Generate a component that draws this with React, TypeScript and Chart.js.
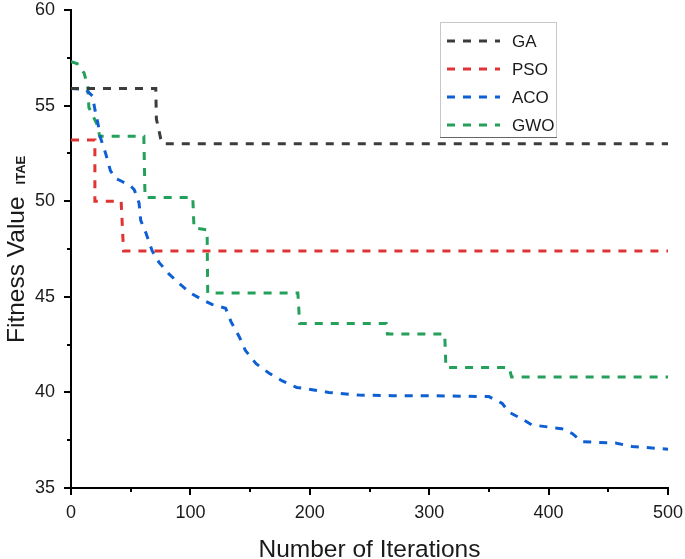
import React, { useEffect, useRef } from "react";
import { Chart, registerables } from "chart.js";

Chart.register(...registerables);

const gaX = [0, 71, 71.5, 73, 75, 77, 500];
const gaY = [55.9, 55.9, 54.3, 53.9, 53.3, 53.0, 53.0];

const psoX = [0, 20, 20, 42, 44, 500];
const psoY = [53.2, 53.2, 50.0, 50.0, 47.4, 47.4];

const acoX = [0, 12, 18, 20, 22.6, 24.8, 29, 33, 37, 41.6, 50, 53, 57, 58.4, 63, 68, 73.7, 82, 90.5, 100, 108.6, 118, 129.5, 134, 141, 146, 155, 166, 177, 189, 202, 216, 241, 269, 297, 350, 361, 367, 378, 386, 411, 420, 428, 456, 470, 498, 500];
const acoY = [55.9, 55.85, 55.5, 54.8, 54.05, 53.3, 52.5, 51.6, 51.2, 51.07, 50.8, 50.6, 49.9, 49.0, 48.3, 47.4, 46.8, 46.2, 45.7, 45.2, 44.9, 44.6, 44.4, 43.7, 42.9, 42.2, 41.5, 41.0, 40.6, 40.26, 40.14, 40.0, 39.86, 39.83, 39.83, 39.78, 39.43, 38.96, 38.6, 38.3, 38.1, 37.84, 37.42, 37.35, 37.17, 37.04, 37.03];

const gwoX = [0, 5, 11, 14, 15, 22, 24, 61, 62, 102, 103, 114, 114.5, 190, 191.5, 264, 265, 313, 314, 367, 369, 500];
const gwoY = [57.3, 57.2, 56.7, 56.0, 54.9, 54.0, 53.4, 53.4, 50.2, 50.2, 48.6, 48.5, 45.2, 45.2, 43.6, 43.6, 43.05, 43.05, 41.3, 41.3, 40.8, 40.8];

const seriesNames = ["GA", "PSO", "ACO", "GWO"];
const seriesColors = ["#3c3c3c", "#e03434", "#0f5fd4", "#24a05a"];
const xTicks = [0, 100, 200, 300, 400, 500];
const yTicks = [35, 40, 45, 50, 55, 60];

const FONT = "'Liberation Sans', Arial, sans-serif";

function pts(xs: number[], ys: number[]) {
  return xs.map((x, i) => ({ x, y: ys[i] }));
}

const decorPlugin = {
  id: "decor",
  afterDraw(chart: any) {
    const ctx = chart.ctx as CanvasRenderingContext2D;
    const xs = chart.scales.x;
    const ys = chart.scales.y;
    const area = chart.chartArea;
    ctx.save();
    ctx.strokeStyle = "#000";
    ctx.lineWidth = 2;
    for (let v = 0; v <= 500; v += 50) {
      const px = Math.round(xs.getPixelForValue(v));
      const len = v % 100 === 0 ? 7 : 4;
      ctx.beginPath();
      ctx.moveTo(px, area.bottom);
      ctx.lineTo(px, area.bottom + len);
      ctx.stroke();
    }
    for (let v = 35; v <= 60; v += 2.5) {
      const py = Math.round(ys.getPixelForValue(v));
      const len = v % 5 === 0 ? 7 : 4;
      ctx.beginPath();
      ctx.moveTo(area.left, py);
      ctx.lineTo(area.left - len, py);
      ctx.stroke();
    }
    ctx.fillStyle = "#1a1a1a";
    ctx.font = `24.5px ${FONT}`;
    ctx.textAlign = "center";
    ctx.textBaseline = "alphabetic";
    ctx.fillText("Number of Iterations", (area.left + area.right) / 2, 557);

    ctx.save();
    ctx.translate(24, 343);
    ctx.rotate(-Math.PI / 2);
    ctx.textAlign = "left";
    ctx.font = `24.5px ${FONT}`;
    ctx.fillText("Fitness Value", 0, 0);
    const w = ctx.measureText("Fitness Value").width;
    ctx.font = `bold 13px ${FONT}`;
    ctx.fillText("ITAE", w + 12, 1);
    ctx.restore();

    const bx = 440, by = 22, bw = 116, bh = 115;
    ctx.fillStyle = "#fff";
    ctx.fillRect(bx, by, bw, bh);
    ctx.lineWidth = 1;
    ctx.strokeStyle = "#c8c8c8";
    ctx.strokeRect(bx + 0.5, by + 0.5, bw, bh);
    ctx.strokeStyle = "#666";
    ctx.beginPath();
    ctx.moveTo(bx, by + bh + 0.5);
    ctx.lineTo(bx + bw + 1, by + bh + 0.5);
    ctx.stroke();
    ctx.font = `17px ${FONT}`;
    ctx.textAlign = "left";
    ctx.textBaseline = "middle";
    seriesNames.forEach((name, i) => {
      const cy = 41 + i * 28;
      ctx.strokeStyle = seriesColors[i];
      ctx.lineWidth = 3;
      ctx.setLineDash([8, 8]);
      ctx.beginPath();
      ctx.moveTo(447, cy);
      ctx.lineTo(500, cy);
      ctx.stroke();
      ctx.setLineDash([]);
      ctx.fillStyle = "#1a1a1a";
      ctx.fillText(name, 512, cy + 1);
    });
    ctx.restore();
  },
};

export default function App() {
  const ref = useRef<HTMLCanvasElement | null>(null);
  useEffect(() => {
    document.body.style.margin = "0";
    const data = [pts(gaX, gaY), pts(psoX, psoY), pts(acoX, acoY), pts(gwoX, gwoY)];
    const chart = new Chart(ref.current as HTMLCanvasElement, {
      type: "scatter",
      data: {
        datasets: data.map((d, i) => ({
          label: seriesNames[i],
          data: d,
          showLine: true,
          borderColor: seriesColors[i],
          backgroundColor: seriesColors[i],
          borderWidth: 3,
          borderDash: [8, 8],
          pointRadius: 0,
          tension: 0,
          fill: false,
        })),
      },
      options: {
        responsive: false,
        animation: false,
        layout: { padding: { top: 10, right: 17, left: 0, bottom: 0 } },
        plugins: { legend: { display: false }, tooltip: { enabled: false } },
        scales: {
          x: {
            type: "linear",
            min: 0,
            max: 500,
            afterFit: (s: any) => { s.height = 71; s.paddingLeft = 0; s.paddingRight = 0; },
            afterBuildTicks: (s: any) => { s.ticks = xTicks.map((v) => ({ value: v })); },
            grid: { display: false, drawTicks: false },
            border: { display: true, color: "#000", width: 2 },
            ticks: { padding: 14, color: "#1a1a1a", font: { family: FONT, size: 18 } },
          },
          y: {
            type: "linear",
            min: 35,
            max: 60,
            afterFit: (s: any) => { s.width = 71; s.paddingTop = 0; s.paddingBottom = 0; },
            afterBuildTicks: (s: any) => { s.ticks = yTicks.map((v) => ({ value: v })); },
            grid: { display: false, drawTicks: false },
            border: { display: true, color: "#000", width: 2 },
            ticks: { padding: 16, color: "#1a1a1a", font: { family: FONT, size: 18 } },
          },
        },
      },
      plugins: [decorPlugin],
    } as any);
    return () => chart.destroy();
  }, []);
  return (
    <div style={{ width: 685, height: 559 }}>
      <canvas ref={ref} width={685} height={559} style={{ display: "block" }} />
    </div>
  );
}
